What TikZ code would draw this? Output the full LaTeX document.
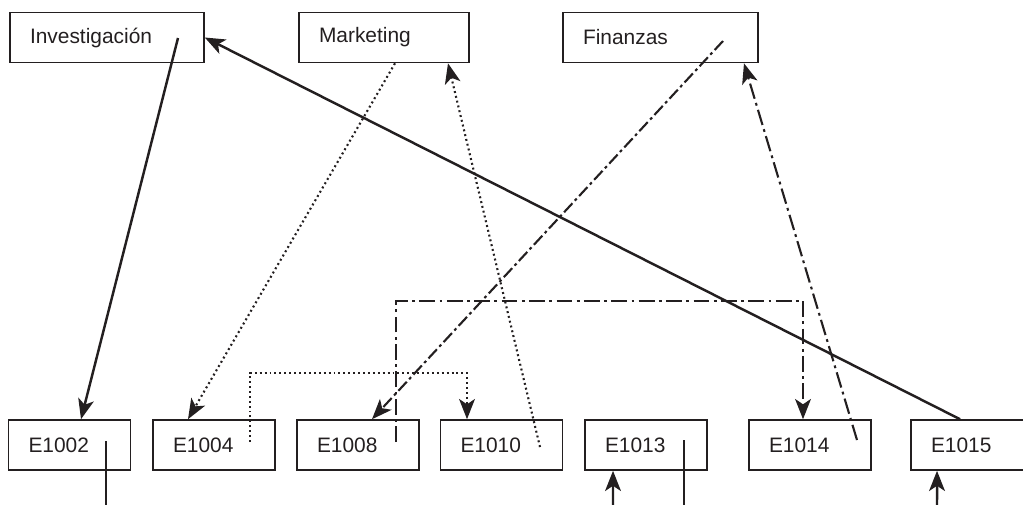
\documentclass[tikz,border=0pt]{standalone}
\usepackage{fontspec}
\setmainfont{Liberation Sans}
\usepackage{xcolor}
\definecolor{inkGray}{HTML}{231F20}
\usepackage{tikz}
\usetikzlibrary{arrows.meta, positioning, calc}

\begin{document}
\begin{tikzpicture}[
  x=0.02cm, y=-0.02cm,
  box/.style={draw=inkGray, line width=0.9pt, minimum height=1cm, inner xsep=0.4cm, align=left, text=inkGray, font=\fontsize{11.9}{14}\selectfont},
  dept/.style={box},
  emp/.style={box, text width=1.64cm},
  solidline/.style={draw=inkGray, line width=1.4pt},
  dotline/.style={draw=inkGray, line width=1.2pt, dash pattern=on 1.1pt off 1.7pt},
  dashdotline/.style={draw=inkGray, line width=1.2pt, dash pattern=on 7pt off 2pt on 1.6pt off 2pt},
  longdashdot/.style={draw=inkGray, line width=1.2pt, dash pattern=on 9pt off 2.5pt on 1.6pt off 2.5pt},
  >={Stealth[length=11.5pt, width=9pt, inset=3pt]}
]
  \useasboundingbox (0,0) rectangle (1023,504);
  \clip (0,0) rectangle (1023,504);

  % Row 1: departments
  \node[dept, text width=3.08cm]  at (107,37.5)   (inv)   {Investigación};
  \node[dept, text width=2.6cm]   at (384,37.5)   (mkt)   {Marketing};
  \node[dept, text width=3.1cm]   at (660.5,37.5) (fin)   {Finanzas};

  % Row 2: employees
  \node[emp]                      at (69.5,445)   (e1002) {E1002};
  \node[emp]                      at (214,445)    (e1004) {E1004};
  \node[emp]                      at (358,445)    (e1008) {E1008};
  \node[emp]                      at (501.5,445)  (e1010) {E1010};
  \node[emp]                      at (646,445)    (e1013) {E1013};
  \node[emp]                      at (810,445)    (e1014) {E1014};
  \node[emp]                      at (972,445)    (e1015) {E1015};

  % start points inside the boxes
  \coordinate (invP)   at (178,38);
  \coordinate (finP)   at (723,41);
  \coordinate (e1002P) at (106,441);
  \coordinate (e1004P) at (250,442);
  \coordinate (e1008P) at (396,442);
  \coordinate (e1010P) at (540,447);
  \coordinate (e1013P) at (684,440);
  \coordinate (e1014P) at (857,440);
  % free ends below the page
  \coordinate (e1002Out) at (106,512);
  \coordinate (e1013In)  at (613,512);
  \coordinate (e1013Out) at (684,512);
  \coordinate (e1015In)  at (937,512);

  \draw[->, solidline] (invP) -- ([xshift=0.23cm]e1002.north);
  \draw[->, solidline] ([xshift=-0.24cm]e1015.north) -- (inv.east);
  \draw[solidline] (e1002P) -- (e1002Out);
  \draw[->, solidline] (e1013In) -- ([xshift=-0.66cm]e1013.south);
  \draw[solidline] (e1013P) -- (e1013Out);
  \draw[->, solidline] (e1015In) -- ([xshift=-0.7cm]e1015.south);

  \draw[->, dotline] ([xshift=0.22cm]mkt.south) -- ([xshift=-0.52cm]e1004.north);
  \draw[->, dotline] (e1010P) -- ([xshift=1.28cm]mkt.south);
  \draw[->, dotline] (e1004P) -- ++(0,-69) -| ([xshift=-0.69cm]e1010.north);

  \draw[->, dashdotline] (finP) -- ([xshift=0.28cm]e1008.north);
  \draw[->, longdashdot] (e1014P) -- ([xshift=1.67cm]fin.south);
  \draw[->, longdashdot] (e1008P) -- ++(0,-141) -| ([xshift=-0.14cm]e1014.north);
\end{tikzpicture}
\end{document}
